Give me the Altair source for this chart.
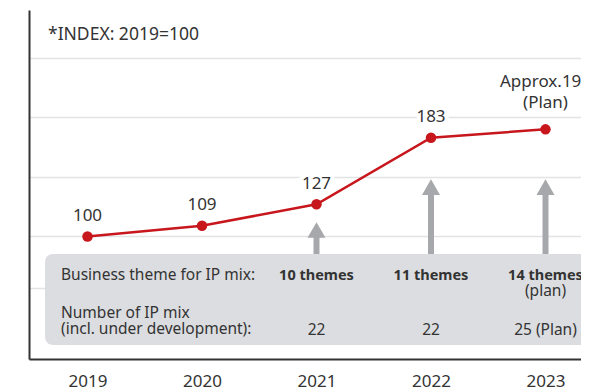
import altair as alt
import pandas as pd

# ---- data ----
years = [2019, 2020, 2021, 2022, 2023]
index_values = [100, 109, 127, 183, 190]
value_labels = ["100", "109", "127", "183", "Approx.190\n(Plan)"]
is_plan = [False, False, False, False, True]

mix_years = [2021, 2022, 2023]
arrow_reach = [112, 148, 148]
theme_labels = ["10 themes", "11 themes", "14 themes"]
theme_notes = ["", "", "(plan)"]
ip_mix_counts = ["22", "22", "25 (Plan)"]

grid_values = [57, 100, 150, 200, 250]
note_text = "*INDEX: 2019=100"
row1_header = "Business theme for IP mix:"
row2_header = "Number of IP mix\n(incl. under development):"

# ---- styles ----
FONT = "Noto Sans"
RED = "#c8161d"
ARROW = "#a7a8ab"
BOX = "#dcdde0"
TEXT = "#333333"
W, H = 552, 349
STEP = 114.5          # pixels per year
X_START = 58.5        # pixel position of the first year inside the plot

df_line = pd.DataFrame({"year": years, "value": index_values,
                        "label": value_labels, "plan": is_plan})
df_mix = pd.DataFrame({"year": mix_years, "value": arrow_reach,
                       "theme": theme_labels, "note": theme_notes,
                       "count": ip_mix_counts})

x0 = years[0] - X_START / STEP
x_scale = alt.Scale(domain=[x0, x0 + W / STEP], nice=False, zero=False)
y_scale = alt.Scale(domain=[-3, 290.3], nice=False, zero=False)

x_axis = alt.Axis(values=years, format="d", labelFontSize=17, labelColor=TEXT,
                  labelFont=FONT, domainColor=TEXT, domainWidth=2, ticks=False,
                  tickSize=0, labelPadding=14, grid=False, title=None,
                  labelFlush=False, labelOverlap=False)
y_axis = alt.Axis(values=grid_values, labels=False, ticks=False, tickSize=0,
                  grid=True, gridColor="#e3e3e3", gridWidth=1.5,
                  domainColor=TEXT, domainWidth=2, title=None)

X = alt.X("year:Q", scale=x_scale, axis=x_axis)
Y = alt.Y("value:Q", scale=y_scale, axis=y_axis)

line = alt.Chart(df_line).mark_line(color=RED, strokeWidth=2.5).encode(x=X, y=Y)
points = alt.Chart(df_line).mark_circle(size=110, color=RED, opacity=1).encode(x=X, y=Y)

shaft = alt.Chart(df_mix).mark_rule(color=ARROW, strokeWidth=6, yOffset=14).encode(
    x=X, y=Y, y2=alt.value(250)
)
head = alt.Chart(df_mix).mark_point(shape="triangle-up", size=324, filled=True,
                                    color=ARROW, opacity=1, yOffset=7.8).encode(x=X, y=Y)

box = alt.Chart(pd.DataFrame({"a": [0]})).mark_rect(color=BOX, cornerRadius=8).encode(
    x=alt.value(16), x2=alt.value(W + 40), y=alt.value(244), y2=alt.value(335)
)

hdr1 = alt.Chart(pd.DataFrame({"t": [row1_header]})).mark_text(
    align="left", baseline="alphabetic", fontSize=15.5, font=FONT, color=TEXT
).encode(text="t:N", x=alt.value(32), y=alt.value(270))
hdr2 = alt.Chart(pd.DataFrame({"t": [row2_header]})).mark_text(
    align="left", baseline="alphabetic", fontSize=15.5, font=FONT, color=TEXT,
    lineBreak="\n", lineHeight=16
).encode(text="t:N", x=alt.value(32), y=alt.value(308))

themes = alt.Chart(df_mix).mark_text(
    align="center", baseline="alphabetic", fontSize=14.5, font=FONT, color=TEXT,
    fontWeight="bold"
).encode(x=X, y=alt.value(270), text="theme:N")
notes = alt.Chart(df_mix).mark_text(
    align="center", baseline="alphabetic", fontSize=15.5, font=FONT, color=TEXT
).encode(x=X, y=alt.value(286), text="note:N")
counts = alt.Chart(df_mix).mark_text(
    align="center", baseline="alphabetic", fontSize=15.5, font=FONT, color=TEXT
).encode(x=X, y=alt.value(325), text="count:N")

actual = alt.Chart(df_line).transform_filter("!datum.plan")
planned = alt.Chart(df_line).transform_filter("datum.plan")

halo = actual.mark_text(align="center", baseline="alphabetic", fontSize=17, font=FONT,
                        color="white", stroke="white", strokeWidth=8, dy=-15.5).encode(
    x=X, y=Y, text="label:N")
labels = actual.mark_text(align="center", baseline="alphabetic", fontSize=17, font=FONT,
                          color=TEXT, dy=-15.5).encode(x=X, y=Y, text="label:N")
plan_label = planned.mark_text(align="center", baseline="alphabetic", fontSize=17, font=FONT,
                               color=TEXT, dy=-42, lineBreak="\n", lineHeight=20.5).encode(
    x=X, y=Y, text="label:N")

note = alt.Chart(pd.DataFrame({"t": [note_text]})).mark_text(
    align="left", baseline="alphabetic", fontSize=17.5, font=FONT, color=TEXT
).encode(text="t:N", x=alt.value(19), y=alt.value(30))

chart = alt.layer(
    line, shaft, head, box, hdr1, hdr2, themes, notes, counts,
    points, halo, labels, plan_label, note
).properties(
    width=W, height=H,
    padding={"left": 21, "top": 2, "right": 0, "bottom": 30},
    autosize=alt.AutoSizeParams(type="none"),
    background="white",
).configure(font=FONT).configure_view(strokeWidth=0)

chart.save("out.html", embed_options={"renderer": "svg", "actions": False})
